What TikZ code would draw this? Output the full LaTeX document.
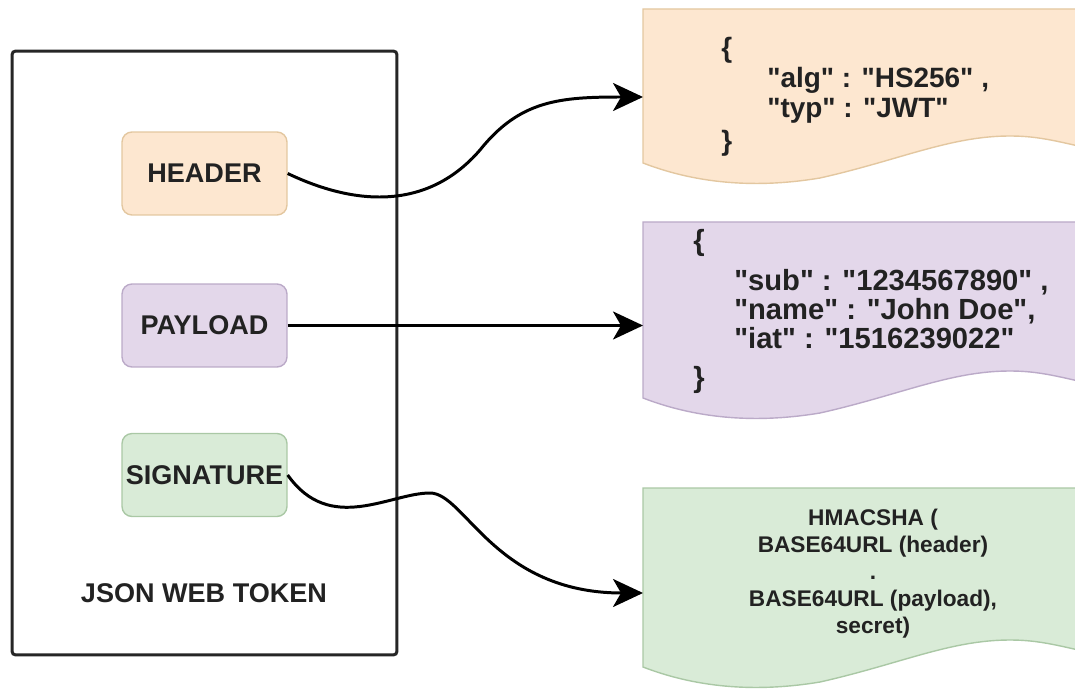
\documentclass[tikz,border=0pt]{standalone}
\usepackage{fontspec}
\setmainfont{Liberation Sans}
\usetikzlibrary{arrows.meta}

\definecolor{hdrfill}{HTML}{FDE7D0}
\definecolor{hdrline}{HTML}{E3C7A0}
\definecolor{payfill}{HTML}{E3D7EA}
\definecolor{payline}{HTML}{BBAAC8}
\definecolor{sigfill}{HTML}{D9EBD7}
\definecolor{sigline}{HTML}{AAC8A5}
\definecolor{ink}{HTML}{222222}

\newcommand{\qs}[1]{\textquotedbl#1\textquotedbl}

\tikzset{
  part/.style={draw, rounded corners=0.2cm, line width=0.8pt, inner sep=0pt,
    minimum width=3.3cm, minimum height=1.66cm, text=ink,
    font=\fontsize{15.4}{18}\selectfont\bfseries},
  link/.style={line width=1.7pt, draw=black,
    -{Stealth[length=0.6cm,width=0.56cm,inset=0.16cm]}},
  code/.style={align=left, text=ink, inner sep=0pt},
  docbox/.style={line width=0.8pt}
}

\begin{document}
\begin{tikzpicture}[x=0.02cm, y=-0.02cm]
  \useasboundingbox (0,0) rectangle (1075,689);
  \clip (0,0) rectangle (1075,689);

  % document shapes on the right
  \foreach \col/\top/\base in {hdr/9/163, pay/222/398, sig/488/667}
    \filldraw[docbox, fill=\col fill, draw=\col line] (643,\top) -- (643,\base)
      .. controls (700,\base+22) and (760,\base+25) .. (820,\base+15)
      .. controls (900,\base-3) and (950,\base-27) .. (1010,\base-27)
      .. controls (1040,\base-27) and (1060,\base-21) .. (1100,\base-12)
      -- (1100,\top) -- cycle;
  \coordinate (hdrdoc) at (643,97);
  \coordinate (paydoc) at (643,325.5);
  \coordinate (sigdoc) at (643,593);

  % the token
  \node[draw=black!85, line width=1.7pt, rounded corners=2pt, inner sep=0pt,
    minimum width=7.7cm, minimum height=12.08cm] (token) at (204.5,353) {};
  \node[text=ink, font=\fontsize{15.4}{18}\selectfont\bfseries] (tokenlabel) at (204,593) {JSON WEB TOKEN};

  \node[part, fill=hdrfill, draw=hdrline] (hdr) at (204.5,173.5) {HEADER};
  \node[part, fill=payfill, draw=payline] (pay) at (204.5,325.5) {PAYLOAD};
  \node[part, fill=sigfill, draw=sigline] (sig) at (204.5,475) {SIGNATURE};

  % contents
  \node[code, anchor=west, font=\fontsize{15.9}{17.1}\selectfont\bfseries] (hdrtext) at (721,96.5)
    {\{\\ \hspace*{0.92cm}\qs{alg} : \qs{HS256} ,\\ \hspace*{0.92cm}\qs{typ} : \qs{JWT}\\[1.5pt] \}};
  \node[code, anchor=west, font=\fontsize{16.6}{16.5}\selectfont\bfseries] (paytext) at (693,311.5)
    {\{\\[6pt] \hspace*{0.82cm}\qs{sub} : \qs{1234567890} ,\\ \hspace*{0.82cm}\qs{name} : \qs{John Doe},\\
     \hspace*{0.82cm}\qs{iat} : \qs{1516239022}\\[5.7pt] \}};
  \node[code, align=center, font=\fontsize{12.9}{15.3}\selectfont\bfseries] (sigtext) at (873,573.5)
    {HMACSHA (\\ BASE64URL (header)\\ .\\ BASE64URL (payload),\\ secret)};

  % connectors
  \draw[link] (hdr.east) .. controls (360,208) and (430,208) .. (480,150)
    .. controls (520,100) and (560,97) .. (hdrdoc);
  \draw[link] (pay.east) -- (paydoc);
  \draw[link] (sig.east) .. controls (330,535) and (390,493) .. (430,493)
    .. controls (465,493) and (495,593) .. (sigdoc);
\end{tikzpicture}
\end{document}
